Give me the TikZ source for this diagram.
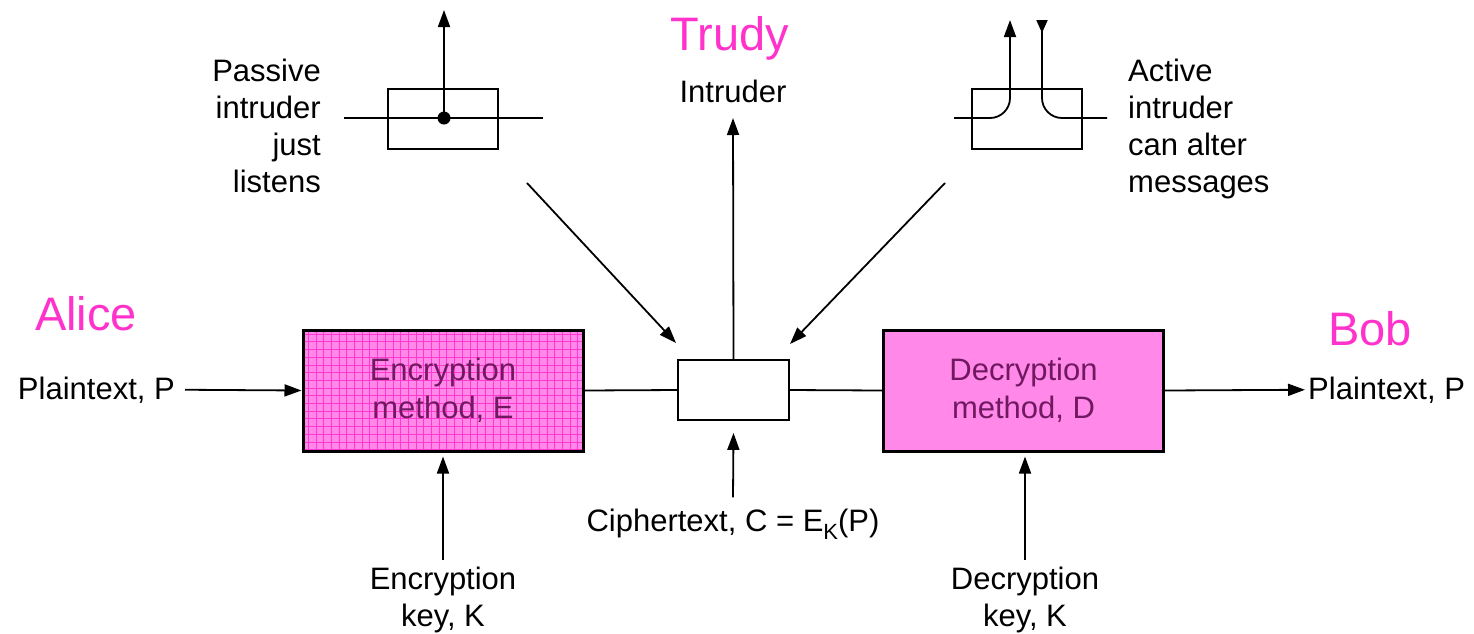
\documentclass[tikz,border=0pt]{standalone}
\usepackage{fontspec}
\setmainfont{Liberation Sans}
\usetikzlibrary{arrows.meta,calc}
\definecolor{nameclr}{RGB}{255,51,204}
\definecolor{boxfill}{RGB}{255,136,232}
\definecolor{gridclr}{RGB}{255,30,200}
\definecolor{boxtext}{RGB}{112,24,96}
\begin{document}
\begin{tikzpicture}[x=1pt,y=-1pt,
  lbl/.style={font=\fontsize{31}{37}\selectfont, inner sep=0pt},
  who/.style={font=\fontsize{47}{50}\selectfont, text=nameclr, inner sep=0pt},
  arr/.style={line width=1.8pt, -{Triangle[length=17pt,width=12pt]}},
  wire/.style={line width=1.8pt},
  cipherbox/.style={draw, line width=3pt, fill=boxfill, minimum width=280pt,
    minimum height=121pt, inner sep=0pt, align=center, text=boxtext,
    font=\fontsize{31}{38}\selectfont},
  tap/.style={draw, line width=1.8pt, minimum width=110pt, minimum height=60pt, inner sep=0pt},
]
\useasboundingbox (0,0) rectangle (1474,633);

% encryption and decryption units
\node[cipherbox, path picture={\draw[gridclr, opacity=0.75, line width=0.6pt, step=7.7pt]
    (path picture bounding box.south west) grid (path picture bounding box.north east);}]
  (enc) at (443,390.5) {Encryption\\method, E};
\node[cipherbox] (dec) at (1023.5,390.5) {Decryption\\method, D};

% channel box between them
\node[tap, minimum width=111pt] (mid) at (733.5,390) {};
\draw[wire] (enc.east) -- (mid.west);
\draw[wire] (mid.east) -- (dec.west);

% plaintext in and out
\node[lbl, anchor=base east] (pin) at (175,399) {Plaintext, P};
\draw[arr] ([xshift=10pt]pin.east) -- (enc.west);
\node[lbl, anchor=base west] (pout) at (1308,399) {Plaintext, P};
\draw[arr] (dec.east) -- ([xshift=-3pt]pout.west);

% parties
\node[who, anchor=base west] (alice) at (35,330) {Alice};
\node[who, anchor=base west] (bob) at (1328,345) {Bob};
\node[who, anchor=base] (trudy) at (730,50) {Trudy};

% intruder tap
\node[lbl, anchor=base] (intr) at (733,102) {Intruder};
\draw[arr] (mid.north) -- ([yshift=-16pt]intr.base);

% ciphertext
\node[lbl, anchor=base] (ctext) at (733,531)
  {Ciphertext, C = E\raisebox{-0.28em}{\fontsize{22}{22}\selectfont K}(P)};
\draw[arr] ([yshift=11pt]ctext.north) -- ([yshift=-12pt]mid.south);

% keys
\node[lbl, anchor=north, align=center] (ekey) at (443,567) {Encryption\\key, K};
\draw[arr] ([yshift=7pt]ekey.north) -- ([yshift=-4pt]enc.south);
\node[lbl, anchor=north, align=center] (dkey) at (1025,567) {Decryption\\key, K};
\draw[arr] ([yshift=7pt]dkey.north) -- ([yshift=-4pt]dkey.north |- dec.south);

% passive intruder
\node[tap] (pbox) at (443,119) {};
\coordinate (pl) at (344,118);
\coordinate (pr) at (543,118);
\draw[wire] (pl) -- (pr);
\coordinate (pdot) at (444,118);
\fill (pdot) circle[radius=6.5pt];
\coordinate (ptop) at (444,10);
\draw[arr] (pdot) -- (ptop);
\node[lbl, anchor=north east, align=right] (ptext) at (321,59)
  {Passive\\intruder\\just\\listens};

% active intruder
\node[tap] (abox) at (1027,119) {};
\coordinate (al) at (954,118);
\coordinate (atopl) at (1010,20);
\draw[wire, rounded corners=20pt, -{Triangle[length=17pt,width=12pt]}] (al) -| (atopl);
\coordinate (atopr) at (1042,20);
\coordinate (ar) at (1107,118);
\draw[wire, rounded corners=20pt, {Triangle[reversed,length=13pt,width=11pt]}-] (atopr) |- (ar);
\node[lbl, anchor=north west, align=left] (atext) at (1128,59)
  {Active\\intruder\\can alter\\messages};

% attacks on the channel
\coordinate (dl) at (527,183);
\coordinate (dlt) at (676,343);
\draw[arr] (dl) -- (dlt);
\coordinate (dr) at (945,183);
\coordinate (drt) at (790,344);
\draw[arr] (dr) -- (drt);
\end{tikzpicture}
\end{document}
